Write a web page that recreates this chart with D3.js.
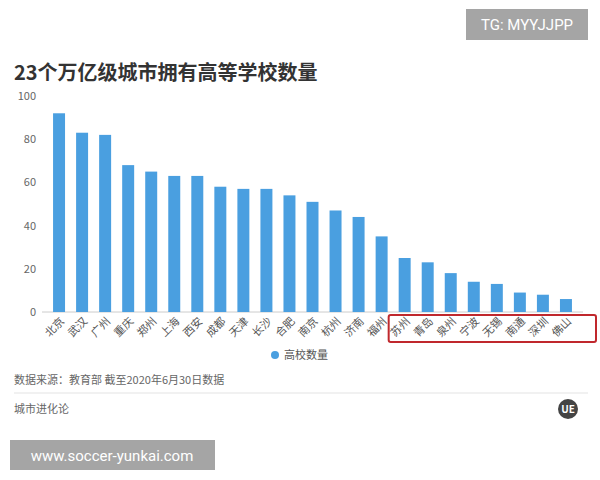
<!DOCTYPE html>
<html><head><meta charset="utf-8">
<script src="https://cdn.jsdelivr.net/npm/d3@7"></script>
<style>body{margin:0;background:#fff;font-family:"Noto Sans CJK SC","Noto Sans",sans-serif}</style>
</head><body><div id="chart"></div>
<script>
// data
const cities = ['北京','武汉','广州','重庆','郑州','上海','西安','成都','天津','长沙','合肥','南京','杭州','济南','福州','苏州','青岛','泉州','宁波','无锡','南通','深圳','佛山'];
const counts = [92,83,82,68,65,63,63,58,57,57,54,51,47,44,35,25,23,18,14,13,9,8,6];
const yTicks = [0,20,40,60,80,100];

const W = 600, H = 480;
const svg = d3.select('#chart').append('svg').attr('width', W).attr('height', H);

const x = d3.scaleBand().domain(cities).range([42, 583]).padding(0.48);
const y = d3.scaleLinear().domain([0, 100]).range([312, 96]);

// title
svg.append('text').attr('x', 14).attr('y', 80).attr('font-size', 20).attr('font-weight', 700)
  .attr('fill', '#333').text('23个万亿级城市拥有高等学校数量');

// y ticks
svg.selectAll('.yt').data(yTicks).join('text')
  .attr('x', 36).attr('y', d => y(d) + 4).attr('text-anchor', 'end')
  .attr('font-size', 11).attr('fill', '#666').text(d => d);

svg.append('line').attr('x1', 42).attr('x2', 583).attr('y1', y(0)).attr('y2', y(0))
  .attr('stroke', '#ccc');

// bars
svg.selectAll('.bar').data(counts).join('rect')
  .attr('x', (d, i) => x(cities[i])).attr('width', x.bandwidth())
  .attr('y', d => y(d)).attr('height', d => y(0) - y(d))
  .attr('fill', '#4a9fe0');

// x labels
svg.selectAll('.xl').data(cities).join('text')
  .attr('transform', d => `translate(${x(d) + x.bandwidth() / 2 + 6},${y(0) + 10}) rotate(-45)`)
  .attr('text-anchor', 'end').attr('font-size', 11).attr('fill', '#555').text(d => d);

// red highlight box
svg.append('rect').attr('x', x('苏州') - 10).attr('y', 315).attr('width', 598 - x('苏州') + 8).attr('height', 27)
  .attr('fill', 'none').attr('stroke', '#c0282d').attr('stroke-width', 2).attr('rx', 2);

// legend
svg.append('circle').attr('cx', 275).attr('cy', 355).attr('r', 4).attr('fill', '#4a9fe0');
svg.append('text').attr('x', 284).attr('y', 359).attr('font-size', 11).attr('fill', '#555').text('高校数量');

// source
svg.append('text').attr('x', 14).attr('y', 384).attr('font-size', 11).attr('fill', '#666')
  .text('数据来源：教育部 截至2020年6月30日数据');
svg.append('line').attr('x1', 14).attr('x2', 588).attr('y1', 393).attr('y2', 393).attr('stroke', '#e3e3e3');
svg.append('text').attr('x', 14).attr('y', 413).attr('font-size', 11).attr('fill', '#666').text('城市进化论');

// logo
svg.append('circle').attr('cx', 568).attr('cy', 409).attr('r', 10).attr('fill', '#444');
svg.append('text').attr('x', 568).attr('y', 413).attr('text-anchor', 'middle').attr('font-size', 10)
  .attr('font-weight', 700).attr('fill', '#fff').text('UE');

// watermark boxes
svg.append('rect').attr('x', 466).attr('y', 9).attr('width', 122).attr('height', 31).attr('fill', '#a5a5a5');
svg.append('text').attr('x', 527).attr('y', 30).attr('text-anchor', 'middle').attr('font-size', 15)
  .attr('fill', '#fff').attr('font-family', 'Roboto, sans-serif').text('TG: MYYJJPP');
svg.append('rect').attr('x', 10).attr('y', 440).attr('width', 205).attr('height', 30).attr('fill', '#a5a5a5');
svg.append('text').attr('x', 112).attr('y', 461).attr('text-anchor', 'middle').attr('font-size', 15)
  .attr('fill', '#fff').attr('font-family', 'Roboto, sans-serif').text('www.soccer-yunkai.com');
</script></body></html>
